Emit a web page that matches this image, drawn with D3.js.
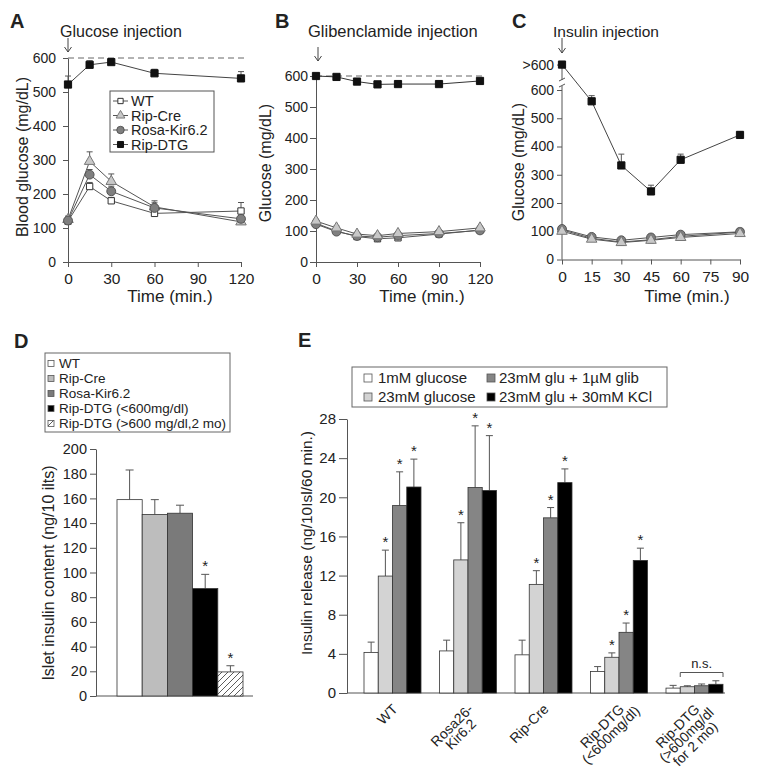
<!DOCTYPE html>
<html><head><meta charset="utf-8">
<script src="https://cdn.jsdelivr.net/npm/d3@7/dist/d3.min.js"></script>
<style>
body{margin:0;background:#fff}
text{font-family:"Liberation Sans",Arial,sans-serif;fill:#222}
</style>
</head><body>
<svg id="c" width="762" height="770"></svg>
<script>
// ---------------- DATA ----------------
const seriesNames = ["WT","Rip-Cre","Rosa-Kir6.2","Rip-DTG"];

// Panel A: glucose tolerance
const timeA = [0,15,30,60,120];
const aWT = [120,222,180,143,150];
const aWTErr = [8,12,10,8,25];
const aCre = [125,296,237,162,118];
const aCreErr = [10,28,22,18,8];
const aRosa = [122,257,208,159,127];
const aRosaErr = [8,15,15,15,10];
const aDTG = [522,580,588,555,540];
const aDTGErr = [25,12,8,12,20];
const xTicksA = [0,30,60,90,120];
const yTicksA = [0,100,200,300,400,500,600];

// Panel B: glibenclamide
const timeB = [0,15,30,45,60,90,120];
const bWT = [125,100,82,75,78,90,103];
const bCre = [132,110,90,85,92,98,110];
const bRosa = [122,98,84,80,85,92,102];
const bDTG = [600,597,582,573,574,574,584];
const bErr = [6,6,5,5,5,5,6];
const xTicksB = [0,30,60,90,120];
const yTicksB = [0,100,200,300,400,500,600];

// Panel C: insulin tolerance (first DTG point is ">600", drawn on the break tick)
const timeC = [0,15,30,45,60,90];
const cWT = [105,75,62,70,82,97];
const cCre = [100,72,60,68,78,92];
const cRosa = [108,80,68,78,88,98];
const cDTG = [690,560,333,241,353,441];
const cDTGErr = [0,20,40,22,20,12];
const cErr = [5,4,4,4,4,4];
const xTicksC = [0,15,30,45,60,75,90];
const yTicksC = [0,100,200,300,400,500,600,690];
const yLabelsC = ["0","100","200","300","400","500","600",">600"];

// Panel D: islet insulin content
const dCats = ["WT","Rip-Cre","Rosa-Kir6.2","Rip-DTG (<600mg/dl)","Rip-DTG (>600 mg/dl,2 mo)"];
const dVals = [159,147,148,87,19.5];
const dErr = [24,12,6.5,11.5,5];
const dSig = [false,false,false,true,true];
const yTicksD = [0,20,40,60,80,100,120,140,160,180,200];

// Panel E: insulin release
const eGroups = ["WT","Rosa26-Kir6.2","Rip-Cre","Rip-DTG (<600mg/dl)","Rip-DTG (>600mg/dl for 2 mo)"];
const eGroupLines = [["WT"],["Rosa26-","Kir6.2"],["Rip-Cre"],["Rip-DTG","(<600mg/dl)"],["Rip-DTG","(>600mg/dl","for 2 mo)"]];
const eConds = ["1mM glucose","23mM glucose","23mM glu + 1\u00b5M glib","23mM glu + 30mM KCl"];
const e1mM = [4.15,4.3,3.9,2.2,0.5];
const e1mMErr = [1.05,1.1,1.5,0.5,0.28];
const e23mM = [11.95,13.6,11.1,3.65,0.64];
const e23mMErr = [2.65,3.8,1.4,0.45,0.1];
const eGlib = [19.15,21.0,17.9,6.2,0.74];
const eGlibErr = [3.45,6.3,1.05,0.95,0.18];
const eKCl = [21.05,20.7,21.5,13.55,0.89];
const eKClErr = [2.85,5.6,1.4,1.25,0.36];
const eSig = [[0,1,1,1],[0,1,1,1],[0,1,1,1],[0,1,1,1],[0,0,0,0]];
const yTicksE = [0,4,8,12,16,20,24,28];

// ---------------- DRAW ----------------
const svg = d3.select("#c");
const defs = svg.append("defs");
const pat = defs.append("pattern").attr("id","hatch").attr("patternUnits","userSpaceOnUse")
  .attr("width",6).attr("height",6);
pat.append("rect").attr("width",6).attr("height",6).attr("fill","#fff");
pat.append("path").attr("d","M-1,1 l2,-2 M0,6 l6,-6 M5,7 l2,-2").attr("stroke","#333").attr("stroke-width",0.8);

const styles = {
  "WT": {type:d3.symbolSquare, size:40, fill:"#fff", stroke:"#333"},
  "Rip-Cre": {type:d3.symbolTriangle, size:48, fill:"#c8c8c8", stroke:"#777"},
  "Rosa-Kir6.2": {type:d3.symbolCircle, size:62, fill:"#7f7f7f", stroke:"#555"},
  "Rip-DTG": {type:d3.symbolSquare, size:52, fill:"#111", stroke:"#111"}
};

function styleAxis(g, fs){
  g.selectAll("path,line").attr("stroke","#555").attr("stroke-width",1);
  g.selectAll("text").attr("font-size",fs).attr("fill","#222")
   .attr("font-family",'"Liberation Sans",Arial,sans-serif');
}
function letter(t,x,y){
  svg.append("text").attr("x",x).attr("y",y).attr("font-size",20).attr("font-weight","bold").attr("fill","#111").text(t);
}
function vlabel(t,x,y,fs){
  svg.append("text").attr("transform",`translate(${x},${y}) rotate(-90)`).attr("text-anchor","middle")
    .attr("dy","0.35em").attr("font-size",fs).text(t);
}
function arrow(x,y1,y2){
  svg.append("path").attr("d",`M${x},${y1}L${x},${y2}M${x-3.5},${y2-5}L${x},${y2}L${x+3.5},${y2-5}`)
    .attr("fill","none").attr("stroke","#444").attr("stroke-width",1);
}

function linePanel(cfg){
  const x = d3.scaleLinear().domain(cfg.xDomain).range(cfg.xRange);
  const y = d3.scaleLinear().domain([0,600]).range(cfg.yRange);
  const g = svg.append("g");
  const ya = d3.axisLeft(y).tickValues(cfg.yTicks).tickSize(cfg.yTick).tickPadding(cfg.yPad).tickSizeOuter(0);
  if (cfg.yLabels) ya.tickFormat((d,i)=>cfg.yLabels[i]);
  const yg = g.append("g").attr("transform",`translate(${cfg.xRange[0]},0)`).call(ya);
  styleAxis(yg,14);
  if (cfg.brk){
    yg.select(".domain").remove();
    const x0 = cfg.xRange[0];
    const top = y(cfg.yTicks[cfg.yTicks.length-1]);
    g.append("path").attr("d",`M${x0},${y(0)}V${y(600)-4}M${x0},${y(600)-10}V${top}M${x0-3},${y(600)-3}L${x0+3},${y(600)-6}M${x0-3},${y(600)-9}L${x0+3},${y(600)-12}`)
      .attr("stroke","#555").attr("fill","none");
  }
  const xa = d3.axisBottom(x).tickValues(cfg.xTicks).tickSize(5).tickPadding(6).tickSizeOuter(0);
  const xg = g.append("g").attr("transform",`translate(0,${y(0)})`).call(xa);
  styleAxis(xg,15.5);
  if (cfg.dashed){
    g.append("line").attr("x1",x(0)).attr("x2",x(cfg.xDomain[1])+6).attr("y1",y(600)).attr("y2",y(600))
      .attr("stroke","#666").attr("stroke-dasharray","6,4").attr("stroke-width",1);
  }
  cfg.series.forEach(s=>{
    const st = styles[s.name];
    const pts = s.values.map((v,i)=>({t:cfg.time[i], v, e:s.err?s.err[i]:0}));
    g.append("path").datum(pts).attr("fill","none").attr("stroke",s.line||"#555").attr("stroke-width",1)
      .attr("d",d3.line().x(d=>x(d.t)).y(d=>y(d.v)));
    const eb = g.append("g").attr("stroke","#555").attr("stroke-width",1);
    pts.filter(d=>d.e>0).forEach(d=>{
      eb.append("line").attr("x1",x(d.t)).attr("x2",x(d.t)).attr("y1",y(d.v)).attr("y2",y(d.v+d.e));
      eb.append("line").attr("x1",x(d.t)-3).attr("x2",x(d.t)+3).attr("y1",y(d.v+d.e)).attr("y2",y(d.v+d.e));
    });
    g.selectAll(null).data(pts).enter().append("path")
      .attr("transform",d=>`translate(${x(d.t)},${y(d.v)})`)
      .attr("d",d3.symbol().type(st.type).size(st.size)())
      .attr("fill",st.fill).attr("stroke",st.stroke).attr("stroke-width",1);
  });
  return {x,y};
}

// ---- Panel A
letter("A",10,28);
svg.append("text").attr("x",60).attr("y",37).attr("font-size",16).text("Glucose injection");
arrow(68,38,52);
linePanel({xDomain:[0,120], xRange:[68,241], yRange:[262,58], time:timeA, xTicks:xTicksA, yTicks:yTicksA,
  yTick:5, yPad:7, dashed:true,
  series:[{name:"WT",values:aWT,err:aWTErr},{name:"Rip-Cre",values:aCre,err:aCreErr},
          {name:"Rosa-Kir6.2",values:aRosa,err:aRosaErr},{name:"Rip-DTG",values:aDTG,err:aDTGErr,line:"#444"}]});
vlabel("Blood glucose (mg/dL)",22,157,16);
svg.append("text").attr("x",170).attr("y",302).attr("text-anchor","middle").attr("font-size",17).text("Time (min.)");
// legend A
const legA = svg.append("g");
legA.append("rect").attr("x",110).attr("y",91).attr("width",104).attr("height",61).attr("fill","#fff").attr("stroke","#555");
seriesNames.forEach((n,i)=>{
  const yy = 101 + i*14.5;
  const st = styles[n];
  legA.append("line").attr("x1",113).attr("x2",128).attr("y1",yy).attr("y2",yy).attr("stroke","#555");
  legA.append("path").attr("transform",`translate(120.5,${yy})`).attr("d",d3.symbol().type(st.type).size(st.size*0.7)())
    .attr("fill",st.fill).attr("stroke",st.stroke);
  legA.append("text").attr("x",131).attr("y",yy).attr("dy","0.35em").attr("font-size",14.5).text(n);
});

// ---- Panel B
letter("B",275,28);
svg.append("text").attr("x",308).attr("y",37).attr("font-size",16.5).text("Glibenclamide injection");
arrow(318,47,61);
linePanel({xDomain:[0,120], xRange:[316,480], yRange:[262,76], time:timeB, xTicks:xTicksB, yTicks:yTicksB,
  yTick:6, yPad:2, dashed:true,
  series:[{name:"WT",values:bWT,err:bErr},{name:"Rosa-Kir6.2",values:bRosa,err:bErr},
          {name:"Rip-Cre",values:bCre,err:bErr},{name:"Rip-DTG",values:bDTG,err:bErr,line:"#333"}]});
vlabel("Glucose (mg/dL)",265,163,16);
svg.append("text").attr("x",422).attr("y",302).attr("text-anchor","middle").attr("font-size",17).text("Time (min.)");

// ---- Panel C
letter("C",512,28);
svg.append("text").attr("x",553).attr("y",37).attr("font-size",15.5).text("Insulin injection");
arrow(562,38,53);
linePanel({xDomain:[0,90], xRange:[562,740], yRange:[259.5,90], time:timeC, xTicks:xTicksC, yTicks:yTicksC,
  yLabels:yLabelsC, yTick:5, yPad:3, brk:true,
  series:[{name:"WT",values:cWT,err:cErr},{name:"Rosa-Kir6.2",values:cRosa,err:cErr},
          {name:"Rip-Cre",values:cCre,err:cErr},{name:"Rip-DTG",values:cDTG,err:cDTGErr,line:"#444"}]});
vlabel("Glucose (mg/dL)",518,162,16);
svg.append("text").attr("x",687).attr("y",302).attr("text-anchor","middle").attr("font-size",17).text("Time (min.)");

// ---- Panel D
letter("D",14,348);
const dFills = ["#fff","#bdbdbd","#7a7a7a","#000","url(#hatch)"];
const legD = svg.append("g");
legD.append("rect").attr("x",45).attr("y",353).attr("width",185).attr("height",79).attr("fill","#fff").attr("stroke","#666");
dCats.forEach((c,i)=>{
  const yy = 363.5 + i*15;
  legD.append("rect").attr("x",48).attr("y",yy-3).attr("width",6).attr("height",6).attr("fill",dFills[i]).attr("stroke","#555").attr("stroke-width",0.8);
  legD.append("text").attr("x",59).attr("y",yy).attr("dy","0.35em").attr("font-size",13.5).text(c);
});
const yD = d3.scaleLinear().domain([0,200]).range([696,449]);
const xD = d3.scaleBand().domain(dCats).range([117,243]).padding(0);
const gD = svg.append("g");
const ydg = gD.append("g").attr("transform","translate(96,0)")
  .call(d3.axisLeft(yD).tickValues(yTicksD).tickSize(6).tickPadding(3).tickSizeOuter(0));
styleAxis(ydg,14.5);
gD.append("line").attr("x1",96).attr("x2",253).attr("y1",yD(0)).attr("y2",yD(0)).attr("stroke","#555");
dCats.forEach((c,i)=>{
  const cx = xD(c)+xD.bandwidth()/2;
  gD.append("line").attr("x1",cx).attr("x2",cx).attr("y1",yD(dVals[i])).attr("y2",yD(dVals[i]+dErr[i])).attr("stroke","#555");
  gD.append("line").attr("x1",cx-4).attr("x2",cx+4).attr("y1",yD(dVals[i]+dErr[i])).attr("y2",yD(dVals[i]+dErr[i])).attr("stroke","#555");
});
gD.selectAll("rect.bar").data(dCats).enter().append("rect").attr("class","bar")
  .attr("x",c=>xD(c)).attr("width",xD.bandwidth())
  .attr("y",(c,i)=>yD(dVals[i])).attr("height",(c,i)=>yD(0)-yD(dVals[i]))
  .attr("fill",(c,i)=>dFills[i]).attr("stroke","#333").attr("stroke-width",0.8);
dCats.forEach((c,i)=>{
  if (dSig[i]) gD.append("text").attr("x",xD(c)+xD.bandwidth()/2).attr("y",yD(dVals[i]+dErr[i])-3)
    .attr("text-anchor","middle").attr("font-size",15).text("*");
});
vlabel("Islet insulin content (ng/10 ilts)",48,573,16);

// ---- Panel E
letter("E",298,347);
const eFills = ["#fff","#d3d3d3","#858585","#000"];
const legE = svg.append("g");
legE.append("rect").attr("x",352).attr("y",367).attr("width",315).attr("height",40).attr("fill","#fff").attr("stroke","#666");
eConds.forEach((c,i)=>{
  const col = Math.floor(i/2), row = i%2;
  const mx = col===0 ? 364 : 487, tx = col===0 ? 378 : 499;
  const yy = row===0 ? 378 : 397;
  legE.append("rect").attr("x",mx).attr("y",yy-4).attr("width",8).attr("height",8).attr("fill",eFills[i]).attr("stroke","#555").attr("stroke-width",0.8);
  legE.append("text").attr("x",tx).attr("y",yy).attr("dy","0.35em").attr("font-size",15).text(c);
});
const eValues = [e1mM,e23mM,eGlib,eKCl];
const eErrs = [e1mMErr,e23mMErr,eGlibErr,eKClErr];
const yE = d3.scaleLinear().domain([0,28]).range([693,419]);
const xE = d3.scaleBand().domain(eGroups).range([364,723]).paddingInner(0.245).paddingOuter(0);
const xEi = d3.scaleBand().domain(eConds).range([0,xE.bandwidth()]).padding(0);
const gE = svg.append("g");
const yeg = gE.append("g").attr("transform","translate(347,0)")
  .call(d3.axisLeft(yE).tickValues(yTicksE).tickSize(8).tickPadding(3).tickSizeOuter(0));
styleAxis(yeg,15);
gE.append("line").attr("x1",347).attr("x2",725).attr("y1",yE(0)).attr("y2",yE(0)).attr("stroke","#555");
eGroups.forEach((gname,gi)=>{
  eConds.forEach((c,ci)=>{
    const v = eValues[ci][gi], e = eErrs[ci][gi];
    const bx = xE(gname)+xEi(c), bw = xEi.bandwidth(), cx = bx+bw/2;
    gE.append("line").attr("x1",cx).attr("x2",cx).attr("y1",yE(v)).attr("y2",yE(v+e)).attr("stroke","#555");
    gE.append("line").attr("x1",cx-3.5).attr("x2",cx+3.5).attr("y1",yE(v+e)).attr("y2",yE(v+e)).attr("stroke","#555");
    gE.append("rect").attr("x",bx).attr("width",bw).attr("y",yE(v)).attr("height",yE(0)-yE(v))
      .attr("fill",eFills[ci]).attr("stroke","#333").attr("stroke-width",0.8);
    if (eSig[gi][ci]) gE.append("text").attr("x",cx).attr("y",yE(v+e)-3).attr("text-anchor","middle").attr("font-size",15).text("*");
  });
  // rotated group label
  const cx = xE(gname)+xE.bandwidth()/2;
  const lines = eGroupLines[gi];
  const t = gE.append("text").attr("transform",`translate(${cx+6},${710}) rotate(-45)`).attr("font-size",14).attr("text-anchor","middle");
  const first = t.append("tspan").attr("x",0).attr("y",0).text(lines[0]);
  const w1 = first.node().getComputedTextLength();
  first.attr("x",-w1/2);
  lines.slice(1).forEach((ln,k)=>{
    t.append("tspan").attr("x",-w1/2).attr("y",(k+1)*12.5).text(ln);
  });
});
// n.s. bracket over last group
const lastG = eGroups[eGroups.length-1];
const bx1 = xE(lastG)+xEi(eConds[1]), bx2 = xE(lastG)+xE.bandwidth();
gE.append("path").attr("d",`M${bx1},677V672.5H${bx2}V677`).attr("fill","none").attr("stroke","#555");
gE.append("text").attr("x",(bx1+bx2)/2).attr("y",668).attr("text-anchor","middle").attr("font-size",13).text("n.s.");
vlabel("Insulin release (ng/10Isl/60 min.)",307,543,15.5);
</script>
</body></html>
